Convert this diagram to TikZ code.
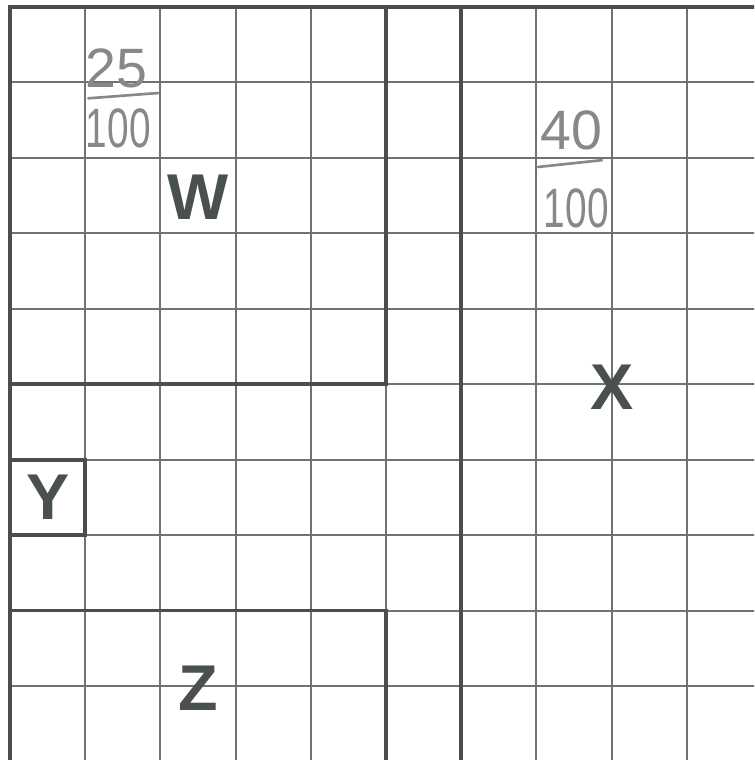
\documentclass[tikz,border=0pt]{standalone}
\usepackage{fontspec}
\setmainfont{Liberation Sans}
\usepackage{tikz}
\usepackage{xcolor}
\usepackage{graphicx}

\definecolor{gridgray}{HTML}{727272}
\definecolor{edgegray}{HTML}{4C4E4E}
\definecolor{lettergray}{HTML}{4A5050}
\definecolor{pencil}{HTML}{888888}

\begin{document}
\begin{tikzpicture}[x=1cm, y=1.0032cm,
        thinline/.style={draw=gridgray, line width=0.75pt},
        edge/.style={draw=edgegray, line width=1.4pt, line cap=rect},
        region/.style={text=lettergray, font=\fontsize{24.5}{24.5}\selectfont\bfseries, inner sep=0pt},
        pencilnum/.style={text=pencil, font=\fontsize{21}{21}\selectfont, inner sep=0pt},
        bar/.style={draw=pencil, line width=1pt, line cap=round}]
        \useasboundingbox (-0.133,0.093) rectangle (9.894,-9.98);
        \clip (-0.133,0.093) rectangle (9.894,-9.98);

        % hundred square
        \foreach \i in {0,...,10} {
            \draw[thinline] (\i,0) -- (\i,-10);
            \draw[thinline] (0,-\i) -- (10,-\i);
        }

        % parts
        \draw[edge] (0,-10) -- (0,0) -- (10,0);
        \draw[edge] (0,-5) -- (5,-5) -- (5,0);
        \draw[edge] (6,0) -- (6,-10);
        \draw[edge] (0,-6) rectangle (1,-7);
        \draw[edge] (0,-8) -- (5,-8) -- (5,-10);

        \node[region] (w) at (2.5,-2.52) {W};
        \node[region] (x) at (8,-5.04) {X};
        \node[region] (y) at (0.505,-6.5) {Y};
        \node[region] (z) at (2.5,-9.03) {Z};

        % pencil fractions
        \node[pencilnum] (wnum) at (1.42,-0.82) {25};
        \draw[bar] (1.04,-1.21) -- (1.97,-1.14);
        \node[pencilnum] (wden) at (1.44,-1.61) {\scalebox{0.7}[1]{100}};

        \node[pencilnum] (xnum) at (7.47,-1.63) {40};
        \draw[bar] (7.02,-2.12) -- (7.87,-2.03);
        \node[pencilnum] (xden) at (7.53,-2.67) {\scalebox{0.7}[1]{100}};
\end{tikzpicture}
\end{document}
